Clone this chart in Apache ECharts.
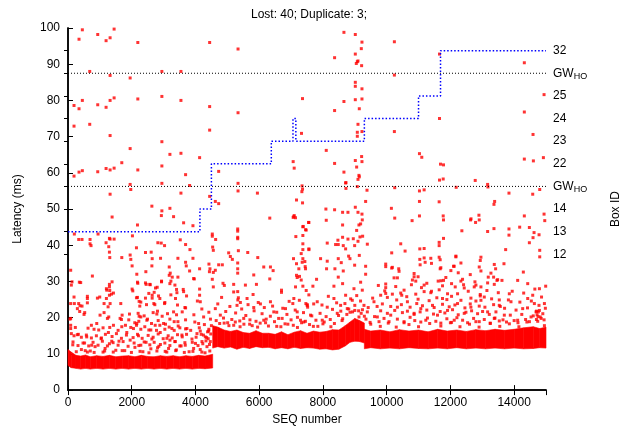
<!DOCTYPE html>
<html>
<head>
<meta charset="utf-8">
<script src="https://cdn.jsdelivr.net/npm/echarts@6/dist/echarts.min.js"></script>
<style>
  html, body { margin: 0; padding: 0; background: #fff; }
  #chart { width: 632px; height: 431px; }
</style>
</head>
<body>
<div id="chart"></div>
<script>
// dense baseline of the latency cloud, one envelope per serving segment
const band1X = [0, 100, 250, 400, 550, 700, 900, 1100, 1300, 1500, 1700, 1900, 2100, 2300, 2500, 2700, 2900, 3100, 3300, 3500, 3700, 3900, 4100, 4300, 4540];
const band1Low = [6.8, 6.2, 6.0, 5.8, 6.0, 5.8, 6.0, 5.8, 6.0, 5.8, 6.0, 5.8, 6.0, 5.8, 6.0, 5.8, 6.0, 5.8, 6.0, 5.8, 6.0, 5.8, 6.0, 5.9, 6.1];
const band1High = [11.2, 10.5, 9.6, 9.4, 9.7, 9.2, 9.5, 9.3, 9.6, 9.2, 9.4, 9.5, 9.2, 9.6, 9.3, 9.2, 9.5, 9.3, 9.5, 9.2, 9.5, 9.3, 9.6, 9.4, 9.9];

const band2X = [4540, 4700, 4900, 5100, 5300, 5500, 5700, 5900, 6100, 6300, 6500, 6700, 6900, 7100, 7300, 7500, 7700, 7900, 8100, 8300, 8500, 8700, 8850, 9000, 9150, 9300];
const band2Low = [11.6, 12.0, 11.6, 11.9, 11.3, 11.8, 11.5, 12.0, 11.7, 11.8, 11.4, 11.7, 11.4, 11.8, 11.5, 11.7, 11.6, 11.3, 11.4, 11.1, 11.3, 12.2, 13.2, 13.5, 13.4, 13.0];
const band2High = [17.8, 17.4, 16.6, 16.2, 16.6, 15.9, 15.7, 16.4, 15.7, 15.7, 15.4, 16.1, 15.3, 16.0, 16.4, 15.7, 16.3, 16.0, 16.2, 16.7, 16.6, 17.8, 18.8, 19.8, 19.2, 18.5];

const band3X = [9300, 9500, 9800, 10100, 10400, 10700, 11000, 11300, 11600, 11900, 12200, 12500, 12800, 13100, 13400, 13700, 14000, 14300, 14600, 14800, 15000];
const band3Low = [11.4, 11.7, 11.4, 11.6, 11.4, 11.7, 11.5, 11.4, 11.6, 11.4, 11.7, 11.4, 11.6, 11.4, 11.6, 11.4, 11.6, 11.4, 11.5, 11.7, 11.6];
const band3High = [16.8, 16.3, 16.6, 16.1, 16.7, 16.3, 16.6, 16.1, 16.8, 16.3, 16.6, 16.2, 16.7, 16.4, 16.8, 16.5, 16.8, 17.2, 17.5, 17.0, 17.4];

// scattered samples [seq, latency]
const upperPts = [
  [189,78.6],[346,96.9],[450,99.5],[189,72.9],[346,77.7],[450,80],[189,59.1],[346,60.2],[450,60.6],[682,88],[682,73.4],[933,98.2],[933,78.8],[933,60.3],
  [1195,96.5],[1195,78.1],[1195,61.2],[1321,97.3],[1321,86.9],[1321,80],[1321,70.3],[1321,60.8],[1321,54.1],[1447,99.7],[1447,80.7],[1447,61.3],[1384,47.8],
  [1688,62.8],[1950,86.2],[1950,66.7],[1950,56.8],[1970,55.4],[2191,96],[2191,80.4],[2191,60.8],[2632,50.8],[2946,88],[2946,81.1],[2946,68.6],[2946,61.9],
  [2946,57.1],[2946,49.5],[2930,48.2],[3198,65.1],[3198,50.2],[3313,47.9],[3544,88],[3544,80],[3544,65.4],[3544,54.4],[3690,59.5],[3816,56.5],[4130,64.2],
  [4445,96],[4445,78.3],[4445,71.8],[4445,53.5],[4623,52.1],[4728,51.5],[4728,60.4],[5336,94.2],[5336,76.6],[5336,57.1],[5336,55],[5944,54.4],[6332,47.5],
  [7066,63.1],[7098,61.3],[7359,80.5],[7328,70.9],[7066,47.7],[7098,48.2],[7170,52.5],[7345,56.4],[7360,55.5],[7339,54.8],[7360,51.7],
  [8659,98.8],[9016,98.2],[9225,96.1],[9204,94.3],[10242,96.2],[8366,91.8],[9016,92.8],[9079,90.7],[9100,90.9],[9214,89.6],[9047,90.2],[10242,87],
  [9016,85],[9016,83.9],[9225,83.2],[8659,79.7],[9016,80.2],[9225,80.4],[8366,77.2],[9141,77.7],[9100,73.4],[9079,71.2],[9225,71.4],[9079,70.1],[10242,71.4],
  [8104,66.2],[8366,62.6],[8659,60.2],[9016,63.4],[9225,63.1],[9058,61.6],[9214,64.5],[9100,58.2],[9141,58.9],[8722,57.3],[8722,55.7],[9079,56.2],[9383,55.2],
  [9340,52.1],[10253,55.9],[11029,65.3],[11102,64.3],[11029,55],[11176,55.3],[11029,52.1],[11647,52],[11658,92.8],[11658,75],[11690,62.4],[11784,62.2],
  [11658,58],[11774,58.3],[12181,56],[12779,57.9],[13178,56.1],[13168,56.8],[13388,52.1],[13367,51.3],[13838,54.4],[14320,90.4],[14320,76.8],[14593,70.6],
  [14320,63.8],[14604,63.3],[14918,64.2],[14939,81.6],[14803,55.4],[14583,54.1],[8093,50],[8366,49.8],[8617,49.1],[8785,49.1],[9016,50.5],[9100,49.1],
  [9225,48.6],[10148,50.2],[10253,47.5],[11029,48.1],[11774,48.1],[11784,47],[12895,48.3],[12647,47.3],[14320,48.1],[14939,48.6],[9130,59.3],[8712,57.2]
];

const midPts = [
  [199,43.1],[336,41.6],[440,41.6],[692,41.6],[692,40.4],[723,39.9],[943,43.1],[1195,40.7],[1321,41.7],[1300,41.9],[1447,41.7],[1279,39.6],[1300,38.1],
  [1311,36.6],[1688,36.6],[1950,37.3],[1971,36.1],[2180,45.6],[2022,42.6],[2148,39.3],[2432,38],[2610,38.1],[2642,36.3],[2820,40.7],[2925,40.6],[3030,39.9],
  [2904,36.4],[3177,34],[3449,36.4],[3523,41.5],[3690,40.2],[3827,38.8],[3921,36.4],[3628,46.2],[3921,45.4],[2012,34.3],[2632,34.3],[3208,32.3],[3271,31.2],
  [3449,31.2],[3690,35.3],[3711,34.3],[3816,32.9],[3942,30.8],[4130,33.5],[4423,34.8],[4455,33.5],[4528,43.1],[4528,42.5],[4633,41.6],[4539,39.5],[4560,38.6],
  [4728,34.6],[4843,34.6],[5042,37.9],[5094,36.9],[5157,36.1],[5325,44.5],[5325,43.9],[5325,42.2],[5325,41.8],[5346,38.5],[5325,35.1],[5325,33.5],[5325,32.3],
  [5640,38],[5955,36.6],[6143,34],[6353,34],[6437,33],[5829,31.8],[7087,47.9],[7140,47.6],[7150,42.4],[7077,36.3],[7171,34.9],[7244,33.5],[7171,31.7],
  [7370,45.1],[7370,42.7],[7475,44.2],[7370,38.8],[7370,36.3],[7433,35.5],[7559,46.3],[7559,39],[7265,31.4],[7454,33.5],
  [84,33.1],[356,29.8],[765,31.5],[105,29],[199,23.9],[608,25.3],[923,25.4],[1216,27.6],[1300,28.5],[1300,26.2],[1321,23.9],[1426,26.8],[2033,27.4],
  [2159,32],[2190,29.5],[2180,25.6],[2285,24.3],[2443,32.7],[2453,29.2],[2579,29.1],[2642,26.2],[2694,23.9],[2799,28.4],[2841,26],[2936,30.1],[3030,23.9],
  [3177,31.7],[3229,30.1],[3355,29],[3418,26.9],[3628,27.2],[3963,30.7],[4130,27.9],[4130,26.2],[4151,24.4],[4438,32.7],[4560,32.5],[4623,33.1],[4528,30.6],
  [4560,28.5],[4864,29.5],[4906,28.9],[5199,29.2],[5325,27.2],[5346,25.5],[5409,24.2],[5567,29],[5913,29.2],[5808,26.4],[6332,30.7],[6699,27.6],[6699,27],
  [7055,23.9],[7140,28.5],[7192,31.1],[7318,30.4],[7370,28.7],[7475,27.5],[7559,26.3],[7465,23.9],
  [8104,46.9],[8617,45.6],[7381,45.2],[7454,44.3],[7549,46.3],[9130,45.6],[9183,45.9],[9235,47],[9058,44.1],[8617,42.2],[8638,39.9],[8397,40.2],[8470,41.4],
  [8481,40.2],[8712,39],[8785,41.7],[8953,41.8],[8995,39.9],[9100,41.1],[9162,42.3],[9246,42.5],[9393,40.3],[7370,40.4],[7318,37.7],[7559,38.8],[7349,35.3],
  [7443,34.1],[7926,36.3],[8135,35.6],[8135,40.6],[8114,33.5],[8376,33.5],[8481,36.3],[8575,35.2],[8638,32.9],[8806,37],[8848,36.3],[8995,34.5],[9141,37.2],
  [9340,34.2],[9340,32],[9739,28.9],[9970,34.1],[10158,33.7],[10158,37.9],[10378,33.5],[10441,40.4],[10578,38.4],[10798,46.8],[11040,39],[11040,36.1],
  [11176,39.1],[11207,35.3],[11385,36.4],[11647,39.9],[11647,40.8],[11647,36.7],[11679,33.5],[11784,41.9],[12172,36.8],[12360,44],[12120,34.2],[12633,47],
  [12790,46.3],[12905,47],[12958,36.7],[13168,43.8],[13367,44.6],[13419,33.5],[13734,38.8],[13838,44.5],[13838,42.8],[14174,45],[14478,44.9],[14478,40.7],
  [14593,42.1],[14625,43.5],[14782,42.9],[14803,38.6],[14803,36.8],[14961,46.8],[14289,32.6],[13681,34.9],
  [7800,30.6],[7685,28.7],[8345,28.7],[8481,31.2],[8617,29.4],[8712,26.2],[8974,28],[9183,29.8],[9235,27.6],[9812,26.2],[9970,28.3],[10179,26.5],[10337,31],
  [10473,26.2],[10861,31.3],[10913,30.1],[11176,29],[11406,27.3],[11616,30.1],[11784,30.3],[11910,26.6],[12151,28.5],[12329,30.1],[12413,29.1],[12748,28.5],
  [12937,26],[13168,29.6],[13356,31.2],[13461,30.3],[13618,30.3],[13849,26.6],[14111,30.3],[14426,29.4],[14583,26.2],[14793,28],[14990,28.7],[14635,23.9],[7507,23.6]
];

const lowPts = [
  [63,19.6],[84,17],[189,15],[325,15.4],[587,14.7],[744,12.4],[608,10.5],[902,18.4],[1038,14.2],[1164,11.5],[1268,15.9],[1373,13.5],[1426,17.9],[1635,19.8],
  [1688,17.5],[1845,15.9],[1950,13.8],[2054,17],[2159,18.4],[2211,15],[2285,12.4],[2474,19.3],[2537,16.6],[2632,14.1],[2736,17.9],[2810,11.7],[2894,15.9],
  [2999,18.4],[3104,14.3],[3156,11.5],[3261,17],[3366,13.4],[3449,18.9],[3575,15.2],[3680,12.4],[3732,17],[3890,14.1],[3942,11.5],[4047,15.6],[4099,18.4],
  [4204,13.4],[4256,20.2],[4308,14.7],[4361,12],[4413,16.3],[4465,13.4],[4151,16.3],[1237,19.8],[503,20.9],[294,22.5],[377,23.3],[608,24.1],[1006,20.7],
  [1929,21],[2232,20.4],[2788,21],[3313,21.6],[3690,22.7],
  [150,12.5],[420,11.2],[520,13],[700,10.8],[850,12],[1100,10.5],[1300,12.8],[1500,11],[1600,13.5],[1780,10.9],[2100,11.8],[2350,10.6],[2450,13.2],
  [2600,11.4],[2900,12.6],[3050,10.7],[3200,13.8],[3400,11.1],[3550,12.2],[3800,10.6],[4000,12.9],[4150,11.2],[4300,10.3],[4400,14.2],[4250,15.2],
  [4350,14.5],[4420,16.8],[4480,15.5],
  [4623,22.5],[4780,20.7],[5199,27.1],[5304,23.4],[5619,25.3],[5514,19.8],[5829,22.8],[6038,23.8],[6143,19.3],[6353,24.4],[6458,21.6],[6720,19.8],
  [6825,22.5],[7087,25.3],[7192,21.6],[7297,19.3],[7506,23.4],[7611,20.7],[7821,24.4],[7978,19.3],[8135,22.9],[8345,25.3],[8450,21.2],[8555,23.4],
  [8764,22.5],[8921,24.8],[9131,20.2],[9288,23.4],[9393,21.6],[9602,24.4],[9707,20.2],
  [4900,18.5],[5050,17.8],[5250,18.8],[5400,17.5],[5700,18.2],[5950,17.4],[6200,18.6],[6550,17.6],[6900,18.2],[7200,17.3],[7400,18.8],[7700,17.6],
  [8000,18.3],[8250,17.5],[8600,19.2],[8850,21.5],[9000,22],[9200,21.2],
  [9970,26.7],[10127,20.7],[10337,22.9],[10546,18.9],[10651,24.4],[10861,21.2],[11071,22.5],[11228,19.3],[11438,23.4],[11595,20.7],[11752,25.3],
  [11910,22],[12120,19.3],[12224,23.9],[12434,21.2],[12643,22.9],[12800,18.9],[12958,24.8],[13168,21.6],[13377,19.8],[13534,23.4],[13692,20.7],
  [13901,24.4],[14111,19.3],[14268,22.5],[14426,25.3],[14531,20.2],[14688,21.6],[14793,22],[14950,23.9],
  [9500,18.2],[9800,17.6],[10050,18.5],[10300,17.4],[10700,18.1],[11000,17.5],[11350,18.4],[11700,17.7],[12000,18.6],[12300,17.5],[12600,18.2],
  [12900,17.4],[13250,18.5],[13550,17.6],[13850,18.3],[14150,17.5],[14400,18.8],[14700,19.5],[14750,20.3],[14850,19.8],[14950,17.8]
];

// speckle just above the dense band, first segment
const cloudSeg1 = [
  [126,29.9],[398,29.7],[1383,29.9],[1300,29.2],[2180,29.8],[2431,29.6],[2568,29.2],[2934,29.9],[3197,29.4],
  [1205,28.0],[1310,27.5],[2012,27.9],[2704,27.0],[2746,28.2],[3406,27.8],[3616,27.8],
  [189,25.7],[608,25.9],[996,25.7],[1205,25.3],[1362,26.5],[2148,25.5],[2431,25.4],[2536,26.7],[2641,25.4],[2882,25.3],[3228,26.3],[3374,25.3],[3720,26.0],
  [84,23.9],[335,23.9],[440,23.2],[1132,23.9],[1258,23.0],[1656,23.9],[2232,24.5],[2253,23.2],[2463,23.6],[2725,23.6],[3039,24.2],[3437,23.5],[3668,22.8],
  [367,21.7],[524,21.4],[1132,21.4],[1279,20.2],[1698,20.7],[2201,21.2],[2285,20.2],[2390,20.5],[2672,21.4],[2809,21.8],[2955,20.4],[3123,21.1],[3406,20.8],[3584,21.6],
  [84,19.8],[1677,19.5],[1907,19.4],[2096,18.6],[2222,19.0],[2494,19.6],[2620,18.4],[2830,19.2],[3060,18.2],[3197,19.6],[3332,18.9],[3458,17.7],[3689,19.4],
  [84,17.9],[230,17.3],[629,17.1],[734,17.9],[817,16.8],[964,16.6],[1100,17.2],[1310,17.3],[1572,16.5],[1803,17.9],[1970,17.3],[2148,17.9],[2285,16.8],
  [2410,17.5],[2599,16.6],[2777,16.5],[2882,17.9],[3039,16.8],[3175,17.4],[3332,16.5],[3510,17.2],[3689,16.9],
  [105,15.6],[293,15.3],[419,14.6],[576,15.2],[734,14.4],[891,15.0],[1048,14.4],[1174,15.4],[1383,14.8],[1520,15.6],[1677,14.3],[1834,15.2],[2043,14.5],
  [2180,15.4],[2327,14.3],[2515,15.1],[2672,14.6],[2830,15.5],[2987,14.2],[3144,15.0],[3270,14.4],[3437,15.3],[3584,14.7],[3720,15.4],
  [157,13.3],[314,12.3],[472,13.0],[650,12.2],[786,13.2],[943,12.4],[1079,13.5],[1237,12.2],[1415,13.1],[1572,12.4],[1729,13.4],[1886,12.1],[2075,13.0],
  [2222,12.3],[2390,13.3],[2568,12.5],[2704,13.2],[2851,12.1],[3039,13.0],[3197,12.3],[3353,13.4],[3510,12.2],[3668,13.1],
  [260,10.6],[540,10.9],[820,10.4],[1150,10.8],[1420,10.5],[1700,10.9],[1990,10.4],[2260,10.7],[2540,10.3],[2790,10.8],[3100,10.5],[3380,10.9],[3650,10.4],
  [3920,10.7],[4200,10.5],[4450,10.8],
  [3850,16.5],[3900,13.2],[3980,18.8],[4020,14.6],[4080,12.3],[4120,17.2],[4180,15.4],[4230,12.8],[4280,18.1],[4330,13.6],[4380,16.1],[4440,12.6],
  [4500,17.8],[4470,19.6],[4420,21.5],[4200,22.4],[3950,20.8],[4060,24.6]
];

// speckle above the band, second segment
const cloudSeg2 = [
  [4650,19.2],[4700,23.8],[4760,18.4],[4820,25.6],[4880,19.9],[4950,21.7],[5010,18.6],[5080,23.1],[5140,19.5],[5200,17.9],[5260,21.3],[5330,24.9],
  [5390,19.1],[5450,22.4],[5520,18.2],[5580,20.6],[5650,23.6],[5710,19.4],[5780,17.8],[5840,21.9],[5900,19.0],[5970,24.2],[6030,18.5],[6090,21.1],
  [6160,22.8],[6220,19.6],[6290,17.7],[6350,20.4],[6420,23.2],[6480,18.9],[6550,21.5],[6610,19.8],[6680,17.5],[6740,22.6],[6810,18.3],[6870,20.9],
  [6940,24.5],[7000,19.4],[7070,17.9],[7130,22.1],[7200,20.1],[7260,24.8],[7330,18.6],[7390,21.4],[7450,19.0],[7520,22.9],[7580,18.1],[7650,20.5],
  [7710,23.8],[7780,19.3],[7840,17.6],[7910,21.2],[7970,23.5],[8040,18.8],[8100,20.3],[8170,25.9],[8230,19.5],[8300,22.3],[8360,18.4],[8430,24.1],
  [8490,20.6],[8560,21.8],[8620,19.7],[8690,23.9],[8750,20.9],[8810,22.4],[8870,25.2],[8930,21.6],[9000,23.4],[9060,26.1],[9120,21.9],[9180,24.6],
  [9240,22.2],[9300,20.4]
];

// speckle above the band, third segment
const cloudSeg3 = [
  [11176,36.5],[11679,36.0],[12172,37.0],[12937,35.8],
  [9970,34.8],[10179,33.9],[11050,34.6],[11406,35.0],[11700,33.8],[12098,34.2],[12330,35.1],[12905,34.0],[13377,34.7],
  [10389,32.8],[10861,32.2],[12015,33.0],[12246,32.4],[12623,31.9],[12958,32.9],[13272,32.3],
  [10232,31.0],[10808,30.4],[10986,31.3],[11700,30.2],[11857,31.1],[12381,30.6],[12770,29.9],[13188,31.2],[13482,30.5],
  [9970,29.3],[10284,28.6],[10777,29.1],[11092,28.3],[11260,29.5],[11753,28.8],[12036,29.4],[12434,28.2],[12801,29.0],[12958,28.5],[13377,29.2],
  [9939,27.4],[10441,26.8],[10546,27.6],[10913,26.5],[11176,27.2],[11385,26.9],[11648,27.7],[12225,26.6],[12560,27.3],[12937,26.4],[13146,27.5],[13503,26.9],
  [10022,25.6],[10315,24.9],[10630,25.8],[10986,25.1],[11333,24.7],[11574,25.5],[11889,25.0],[12036,25.9],[12330,24.8],[12644,25.4],[12801,24.6],
  [13063,25.7],[13293,25.2],[13534,24.9],
  [9865,23.8],[10127,23.1],[10462,23.6],[10735,22.9],[10944,23.9],[11123,23.3],[11490,22.8],[11753,23.7],[11963,23.0],[12141,23.5],[12456,22.7],
  [12623,23.8],[12905,23.2],[13083,22.9],[13356,23.6],[13566,23.1],
  [9812,21.9],[10022,21.2],[10253,22.0],[10494,21.4],[10651,21.8],[10861,20.9],[11050,21.6],[11260,22.1],[11469,21.0],[11679,21.7],[11826,21.3],
  [12067,22.2],[12246,20.8],[12487,21.5],[12665,21.9],[12853,21.1],[13010,21.7],[13220,20.9],[13429,21.6],
  [9917,19.8],[10074,18.9],[10336,19.6],[10546,18.6],[10735,20.1],[10882,19.2],[11071,18.8],[11280,19.9],[11543,19.0],[11700,18.5],[11889,19.7],
  [12036,18.7],[12204,20.0],[12383,19.3],[12540,18.6],[12728,19.8],[12905,18.9],[13063,19.5],[13251,18.4],[13398,19.9],[13534,19.1],
  [9350,19.6],[9420,22.8],[9480,18.7],[9560,25.4],[9620,20.3],[9700,23.1],[9760,18.9],
  [13650,19.4],[13700,22.6],[13760,18.8],[13820,24.9],[13880,20.7],[13940,27.3],[14000,19.2],[14060,22.1],[14120,18.6],[14180,24.3],[14240,20.9],
  [14300,26.8],[14360,19.5],[14420,22.7],[14480,18.9],[14540,24.6],[14600,20.5],[14650,27.9],[14700,21.8],[14740,19.0],[14780,23.4],[14820,20.2],
  [14860,25.7],[14900,21.1],[14940,19.4],[14980,22.6],[14720,20.8],[14760,21.6]
];

// serving box, drawn against the right axis positions
const stepX = [0, 4140, 4500, 6380, 7060, 7150, 9300, 11000, 11690, 15000];
const stepY = [43.75, 50, 62.5, 68.75, 75, 68.75, 75, 81.25, 93.75, 93.75];

// gateway handover levels
const gwLevels = [56.25, 87.5];

// right axis
const boxTicks = [37.5, 43.75, 50, 56.25, 62.5, 68.75, 75, 81.25, 87.5, 93.75];
const boxLabels = ['12', '13', '14', 'GW_HO', '22', '23', '24', '25', 'GW_HO', '32'];

const FONT = 'Liberation Sans, Arial, Helvetica, sans-serif';

// each item is one slice of the band: [x0, lo0, hi0, x1, lo1, hi1]
function bandItems(xs, lo, hi) {
  const out = [];
  for (let i = 0; i < xs.length - 1; i++) {
    out.push([xs[i], lo[i], hi[i], xs[i + 1], lo[i + 1], hi[i + 1]]);
  }
  return out;
}

function renderBand(params, api) {
  const p1 = api.coord([api.value(0), api.value(1)]);
  const p2 = api.coord([api.value(0), api.value(2)]);
  const p3 = api.coord([api.value(3), api.value(5)]);
  const p4 = api.coord([api.value(3), api.value(4)]);
  return {
    type: 'polygon',
    shape: { points: [p1, p2, p3, p4] },
    style: { fill: '#ff0000', stroke: '#ff0000', lineWidth: 0.6 }
  };
}

const bandData = bandItems(band1X, band1Low, band1High)
  .concat(bandItems(band2X, band2Low, band2High))
  .concat(bandItems(band3X, band3Low, band3High));

const chart = echarts.init(document.getElementById('chart'));

const axisLine = { show: true, lineStyle: { color: '#000', width: 1.5 } };
const plain = v => String(v);

chart.setOption({
  animation: false,
  textStyle: { fontFamily: FONT },
  title: {
    text: 'Lost: 40; Duplicate: 3;',
    left: 246, top: 4,
    textStyle: { fontSize: 12, fontWeight: 'normal', color: '#000', fontFamily: FONT }
  },
  grid: { left: 68, right: 86, top: 28, bottom: 39 },
  xAxis: [
    {
      type: 'value', min: 0, max: 15000, interval: 2000, position: 'bottom',
      axisLine: axisLine,
      axisTick: { inside: true, length: 5, lineStyle: { color: '#000' } },
      axisLabel: { fontSize: 12, color: '#000', margin: 7, showMaxLabel: false, fontFamily: FONT, formatter: plain },
      splitLine: { show: false },
      name: 'SEQ number', nameLocation: 'middle', nameGap: 23,
      nameTextStyle: { fontSize: 12, color: '#000', fontFamily: FONT }
    },
    {
      type: 'value', min: 0, max: 15000, interval: 2000, position: 'top',
      axisLine: axisLine,
      axisTick: { inside: true, length: 5, lineStyle: { color: '#000' } },
      axisLabel: { show: false },
      splitLine: { show: false }
    }
  ],
  yAxis: [
    {
      type: 'value', min: 0, max: 100, interval: 10, position: 'left',
      axisLine: axisLine,
      axisTick: { inside: true, length: 5, lineStyle: { color: '#000' } },
      axisLabel: { fontSize: 12, color: '#000', margin: 8, fontFamily: FONT, formatter: plain },
      splitLine: { show: false },
      name: 'Latency (ms)', nameLocation: 'middle', nameGap: 44, nameRotate: 90,
      nameTextStyle: { fontSize: 12, color: '#000', fontFamily: FONT }
    },
    {
      type: 'value', min: 0, max: 100, position: 'right',
      axisLine: axisLine,
      axisTick: { inside: true, length: 4, customValues: boxTicks, lineStyle: { color: '#000' } },
      axisLabel: {
        customValues: boxTicks, fontSize: 12, color: '#000', margin: 7, fontFamily: FONT,
        formatter: function (v) {
          const i = boxTicks.findIndex(t => Math.abs(t - v) < 0.01);
          const s = i >= 0 ? boxLabels[i] : '';
          if (s.indexOf('_') >= 0) {
            const parts = s.split('_');
            return '{g|' + parts[0] + '}{s|' + parts[1] + '}';
          }
          return s;
        },
        rich: {
          g: { fontSize: 12, color: '#000', fontFamily: FONT },
          s: { fontSize: 9, color: '#000', fontFamily: FONT, padding: [7, 0, 0, 0], verticalAlign: 'bottom' }
        }
      },
      splitLine: { show: false },
      name: 'Box ID', nameLocation: 'middle', nameGap: 64, nameRotate: 90,
      nameTextStyle: { fontSize: 12, color: '#000', fontFamily: FONT }
    }
  ],
  series: [
    {
      type: 'custom', silent: true,
      renderItem: renderBand,
      encode: { x: [0, 3], y: [1, 2, 4, 5] },
      data: bandData
    },
    {
      type: 'scatter', silent: true,
      symbol: 'rect', symbolSize: 3,
      itemStyle: { color: '#ff0000' },
      data: upperPts.concat(midPts, lowPts, cloudSeg1, cloudSeg2, cloudSeg3)
    },
    ...gwLevels.map(v => ({
      type: 'line', silent: true, symbol: 'none',
      lineStyle: { color: '#000', width: 1, type: [1, 2] },
      data: [[0, v], [15000, v]]
    })),
    {
      type: 'line', silent: true, symbol: 'none', step: 'end', yAxisIndex: 1,
      lineStyle: { color: '#0000ff', width: 1.5, type: [1.5, 2] },
      data: stepX.map((x, i) => [x, stepY[i]])
    }
  ]
});
</script>
</body>
</html>
